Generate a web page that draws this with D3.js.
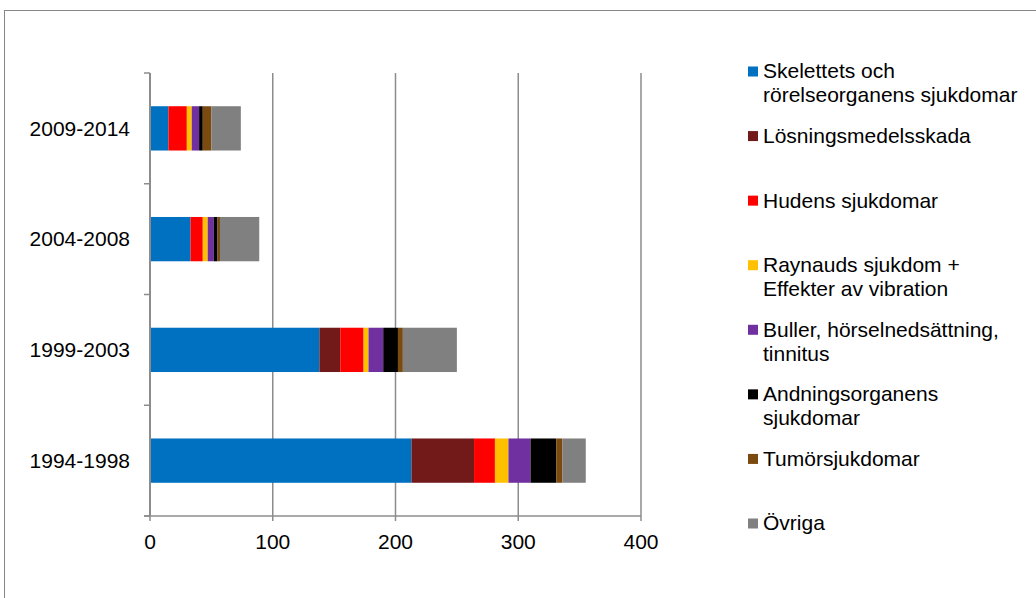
<!DOCTYPE html>
<html>
<head>
<meta charset="utf-8">
<script src="https://cdn.jsdelivr.net/npm/d3@7"></script>
<style>
  html, body { margin: 0; padding: 0; background: #fff; }
  svg { display: block; font-family: "Liberation Sans", Arial, sans-serif; }
</style>
</head>
<body>
<svg id="chart" width="1036" height="598"></svg>
<script>
// ---- data ----
const categories = ["2009-2014", "2004-2008", "1999-2003", "1994-1998"];
const seriesNames = [
  "Skelettets och rörelseorganens sjukdomar",
  "Lösningsmedelsskada",
  "Hudens sjukdomar",
  "Raynauds sjukdom + Effekter av vibration",
  "Buller, hörselnedsättning, tinnitus",
  "Andningsorganens sjukdomar",
  "Tumörsjukdomar",
  "Övriga"
];
const legendLines = [
  ["Skelettets och", "rörelseorganens sjukdomar"],
  ["Lösningsmedelsskada"],
  ["Hudens sjukdomar"],
  ["Raynauds sjukdom +", "Effekter av vibration"],
  ["Buller, hörselnedsättning,", "tinnitus"],
  ["Andningsorganens", "sjukdomar"],
  ["Tumörsjukdomar"],
  ["Övriga"]
];
const colors = ["#0070C0", "#721A1A", "#FF0000", "#FFC000", "#7030A0", "#000000", "#7B4A0E", "#808080"];
// values per series, in category order (2009-2014, 2004-2008, 1999-2003, 1994-1998)
const skelettets   = [15, 33, 138, 213];
const losningsmedel = [0, 0, 17, 51];
const hudens        = [15, 10, 19, 17];
const raynauds      = [4, 4, 4, 11];
const buller        = [6, 5, 12, 18];
const andning       = [3, 3, 12, 21];
const tumor         = [7, 2, 4, 5];
const ovriga        = [24, 32, 44, 19];
const xTicks = [0, 100, 200, 300, 400];

const seriesValues = [skelettets, losningsmedel, hudens, raynauds, buller, andning, tumor, ovriga];

// ---- build table ----
const table = categories.map((c, i) => {
  const row = { cat: c };
  seriesNames.forEach((s, j) => row[s] = seriesValues[j][i]);
  return row;
});
const stacked = d3.stack().keys(seriesNames)(table);

const svg = d3.select("#chart");
const FS = 21;

// chart border
svg.append("rect")
  .attr("x", 4.5).attr("y", 10.5)
  .attr("width", 1100).attr("height", 700)
  .attr("fill", "none").attr("stroke", "#868686").attr("stroke-width", 1);

const x = d3.scaleLinear().domain([0, 400]).range([150, 641]);
const y = d3.scaleBand().domain(categories).range([73, 516])
  .paddingInner(0.6).paddingOuter(0.3);

// gridlines
svg.append("g").selectAll("line")
  .data(xTicks.slice(1))
  .join("line")
  .attr("x1", d => x(d)).attr("x2", d => x(d))
  .attr("y1", 73).attr("y2", 516)
  .attr("stroke", "#8c8c8c").attr("stroke-width", 1.5);

// bars
svg.append("g").selectAll("g")
  .data(stacked)
  .join("g")
  .attr("fill", (d, i) => colors[i])
  .selectAll("rect")
  .data(d => d)
  .join("rect")
  .attr("x", d => x(d[0]))
  .attr("y", d => y(d.data.cat))
  .attr("width", d => Math.max(0, x(d[1]) - x(d[0])))
  .attr("height", y.bandwidth());

// category axis
const yAxis = svg.append("g")
  .attr("transform", "translate(150,0)");
yAxis.append("line")
  .attr("x1", 0).attr("x2", 0).attr("y1", 73).attr("y2", 516)
  .attr("stroke", "#8c8c8c").attr("stroke-width", 2);
const bandEdges = categories.map(c => y(c) - y.step() * y.paddingInner() / 2);
bandEdges.push(516);
bandEdges[0] = 73;
yAxis.selectAll("line.tick")
  .data(bandEdges)
  .join("line")
  .attr("class", "tick")
  .attr("x1", -6).attr("x2", 0)
  .attr("y1", d => d).attr("y2", d => d)
  .attr("stroke", "#8c8c8c").attr("stroke-width", 1.5);
yAxis.selectAll("text")
  .data(categories)
  .join("text")
  .attr("x", -20)
  .attr("y", d => y(d) + y.bandwidth() / 2)
  .attr("dy", "0.35em")
  .attr("text-anchor", "end")
  .attr("font-size", FS)
  .attr("fill", "#000")
  .text(d => d);

// value axis
const xAxis = svg.append("g");
xAxis.append("line")
  .attr("x1", 144).attr("x2", x(400)).attr("y1", 516).attr("y2", 516)
  .attr("stroke", "#8c8c8c").attr("stroke-width", 1.5);
xAxis.selectAll("line.tick")
  .data(xTicks)
  .join("line")
  .attr("class", "tick")
  .attr("x1", d => x(d)).attr("x2", d => x(d))
  .attr("y1", 516).attr("y2", 521)
  .attr("stroke", "#8c8c8c").attr("stroke-width", 1.5);
xAxis.selectAll("text")
  .data(xTicks)
  .join("text")
  .attr("x", d => x(d))
  .attr("y", 542)
  .attr("dy", "0.35em")
  .attr("text-anchor", "middle")
  .attr("font-size", FS)
  .attr("fill", "#000")
  .text(d => d);

// legend
const legend = svg.append("g");
const legendY = d3.scaleLinear().domain([0, 7]).range([71, 523]);
const items = legend.selectAll("g")
  .data(legendLines)
  .join("g")
  .attr("transform", (d, i) => `translate(748,${legendY(i)})`);
items.append("rect")
  .attr("x", 0).attr("y", -4.5)
  .attr("width", 10).attr("height", 10)
  .attr("fill", (d, i) => colors[i]);
items.append("text")
  .attr("font-size", FS)
  .attr("fill", "#000")
  .selectAll("tspan")
  .data(d => d)
  .join("tspan")
  .attr("x", 15)
  .attr("y", (d, k) => k * 24)
  .attr("dy", "0.35em")
  .text(d => d);
</script>
</body>
</html>
